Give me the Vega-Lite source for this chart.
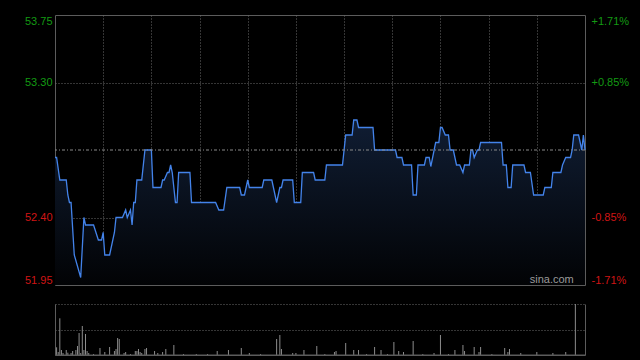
{
  "$schema": "https://vega.github.io/schema/vega-lite/v6.json",
  "background": "#000000",
  "padding": {"left": 0, "top": 14, "right": 0, "bottom": 5},
  "autosize": {"type": "pad"},
  "config": {"view": {"stroke": null}, "font": "Liberation Sans"},
  "spacing": 17,
  "datasets": {
    "price": [
      {"t":0,"p":52.80},{"t":1,"p":52.80},{"t":3,"p":52.65},{"t":7,"p":52.65},{"t":8,"p":52.55},{"t":9,"p":52.50},{"t":10,"p":52.50},{"t":12,"p":52.15},{"t":16,"p":52.00},{"t":18,"p":52.40},{"t":19,"p":52.35},{"t":24,"p":52.35},{"t":27,"p":52.25},{"t":29,"p":52.25},{"t":30,"p":52.30},{"t":31,"p":52.15},{"t":34,"p":52.15},{"t":37,"p":52.30},{"t":38,"p":52.40},{"t":42,"p":52.40},{"t":44,"p":52.45},{"t":45,"p":52.40},{"t":47,"p":52.45},{"t":48,"p":52.35},{"t":49,"p":52.50},{"t":50,"p":52.50},{"t":51,"p":52.65},{"t":54,"p":52.65},{"t":56,"p":52.85},{"t":60,"p":52.85},{"t":61,"p":52.60},{"t":66,"p":52.60},{"t":67,"p":52.65},{"t":68,"p":52.65},{"t":70,"p":52.70},{"t":71,"p":52.70},{"t":72,"p":52.75},{"t":73,"p":52.70},{"t":75,"p":52.50},{"t":76,"p":52.50},{"t":77,"p":52.70},{"t":84,"p":52.70},{"t":85,"p":52.50},{"t":100,"p":52.50},{"t":102,"p":52.45},{"t":105,"p":52.45},{"t":107,"p":52.60},{"t":115,"p":52.60},{"t":116,"p":52.55},{"t":118,"p":52.55},{"t":120,"p":52.65},{"t":121,"p":52.60},{"t":129,"p":52.60},{"t":130,"p":52.65},{"t":135,"p":52.65},{"t":138,"p":52.50},{"t":140,"p":52.60},{"t":141,"p":52.60},{"t":142,"p":52.65},{"t":148,"p":52.65},{"t":149,"p":52.50},{"t":153,"p":52.50},{"t":154,"p":52.70},{"t":161,"p":52.70},{"t":162,"p":52.65},{"t":168,"p":52.65},{"t":169,"p":52.75},{"t":179,"p":52.75},{"t":181,"p":52.95},{"t":185,"p":52.95},{"t":186,"p":53.05},{"t":188,"p":53.05},{"t":189,"p":53.00},{"t":198,"p":53.00},{"t":199,"p":52.85},{"t":212,"p":52.85},{"t":213,"p":52.80},{"t":216,"p":52.80},{"t":217,"p":52.75},{"t":222,"p":52.75},{"t":223,"p":52.55},{"t":225,"p":52.55},{"t":226,"p":52.75},{"t":230,"p":52.75},{"t":231,"p":52.80},{"t":233,"p":52.80},{"t":234,"p":52.74},{"t":237,"p":52.90},{"t":239,"p":52.90},{"t":240,"p":53.00},{"t":241,"p":53.00},{"t":243,"p":52.95},{"t":245,"p":52.95},{"t":246,"p":52.85},{"t":248,"p":52.85},{"t":250,"p":52.75},{"t":252,"p":52.75},{"t":254,"p":52.70},{"t":255,"p":52.75},{"t":258,"p":52.75},{"t":259,"p":52.85},{"t":260,"p":52.85},{"t":261,"p":52.80},{"t":263,"p":52.85},{"t":264,"p":52.85},{"t":265,"p":52.90},{"t":278,"p":52.90},{"t":279,"p":52.75},{"t":281,"p":52.75},{"t":282,"p":52.60},{"t":284,"p":52.60},{"t":285,"p":52.75},{"t":292,"p":52.75},{"t":293,"p":52.70},{"t":296,"p":52.70},{"t":298,"p":52.55},{"t":304,"p":52.55},{"t":305,"p":52.60},{"t":309,"p":52.60},{"t":310,"p":52.70},{"t":315,"p":52.70},{"t":316,"p":52.75},{"t":318,"p":52.80},{"t":321,"p":52.80},{"t":322,"p":52.85},{"t":323,"p":52.95},{"t":326,"p":52.95},{"t":328,"p":52.85},{"t":329,"p":52.95},{"t":330,"p":52.85}
    ],
    "vol": [
      {"t":1,"v":7.7},{"t":2,"v":3},{"t":3,"v":36.7},{"t":4,"v":5},{"t":5,"v":2},{"t":7,"v":5},{"t":8,"v":2.3},{"t":10,"v":2},{"t":11,"v":4},{"t":13,"v":5},{"t":14,"v":9},{"t":15,"v":22},{"t":16,"v":2},{"t":17,"v":29},{"t":18,"v":5},{"t":19,"v":21},{"t":20,"v":4},{"t":21,"v":2},{"t":24,"v":1},{"t":28,"v":7},{"t":31,"v":3},{"t":34,"v":8},{"t":37,"v":4},{"t":38,"v":6},{"t":39,"v":17},{"t":40,"v":16},{"t":43,"v":2},{"t":44,"v":3},{"t":47,"v":1},{"t":50,"v":4},{"t":51,"v":4},{"t":52,"v":6},{"t":53,"v":3},{"t":54,"v":2},{"t":56,"v":6},{"t":57,"v":7},{"t":62,"v":4},{"t":64,"v":2},{"t":67,"v":3},{"t":69,"v":6},{"t":74,"v":10},{"t":80,"v":1},{"t":88,"v":1},{"t":95,"v":1},{"t":101,"v":4},{"t":108,"v":5},{"t":116,"v":7},{"t":121,"v":2},{"t":128,"v":1},{"t":138,"v":16},{"t":140,"v":20},{"t":141,"v":6},{"t":148,"v":2},{"t":150,"v":2},{"t":155,"v":5},{"t":163,"v":9},{"t":168,"v":1},{"t":174,"v":3},{"t":175,"v":4},{"t":181,"v":12},{"t":186,"v":5},{"t":189,"v":5},{"t":194,"v":1},{"t":199,"v":8},{"t":203,"v":5},{"t":207,"v":1},{"t":211,"v":13},{"t":214,"v":4},{"t":217,"v":3},{"t":223,"v":14},{"t":229,"v":1},{"t":236,"v":2},{"t":240,"v":20},{"t":245,"v":1},{"t":249,"v":5},{"t":254,"v":10},{"t":255,"v":4},{"t":261,"v":8},{"t":264,"v":3},{"t":265,"v":8},{"t":272,"v":1},{"t":280,"v":7},{"t":282,"v":3},{"t":283,"v":6},{"t":290,"v":2},{"t":300,"v":3},{"t":310,"v":2},{"t":318,"v":3},{"t":324,"v":51}
    ]
  },
  "vconcat": [
    {
      "width": 530,
      "height": 270,
      "view": {"stroke": "#5c5c5c", "strokeWidth": 1},
      "layer": [
        {
          "data": {"name": "price"},
          "mark": {
            "type": "area",
            "interpolate": "linear",
            "color": {
              "gradient": "linear", "x1": 0, "y1": 0, "x2": 0, "y2": 1,
              "stops": [{"offset": 0, "color": "#101d33"}, {"offset": 1, "color": "#020305"}]
            }
          },
          "encoding": {
            "x": {
              "field": "t", "type": "quantitative",
              "scale": {"domain": [0, 330], "nice": false, "zero": false},
              "axis": {
                "values": [30, 60, 90, 120, 150, 180, 210, 240, 270, 300],
                "grid": true, "gridColor": "#6a6a6a", "gridDash": [1, 2],
                "labels": false, "ticks": false, "domain": false, "title": null,
                "minExtent": 0, "maxExtent": 0
              }
            },
            "y": {
              "field": "p", "type": "quantitative",
              "scale": {"domain": [51.95, 53.75], "nice": false, "zero": false},
              "axis": {
                "values": [51.95, 52.4, 53.3, 53.75],
                "format": ".2f",
                "grid": true, "gridColor": "#6a6a6a", "gridDash": [1, 2],
                "gridOpacity": {"condition": {"test": "datum.value > 52 && datum.value < 53.7", "value": 1}, "value": 0},
                "labelFlush": true,
                "labelColor": {"condition": {"test": "datum.value > 52.85", "value": "#139a13"}, "value": "#d01515"},
                "labelFontSize": 11,
                "labelPadding": 3,
                "ticks": false, "domain": false, "title": null,
                "minExtent": 54, "maxExtent": 54
              }
            },
            "y2": {"datum": 51.95}
          }
        },
        {
          "data": {"name": "price"},
          "mark": {"type": "line", "color": "#4383ea", "strokeWidth": 1.3, "interpolate": "linear"},
          "encoding": {
            "x": {"field": "t", "type": "quantitative"},
            "y": {"field": "p", "type": "quantitative", "scale": {"domain": [51.95, 53.75], "nice": false, "zero": false}, "axis": null}
          }
        },
        {
          "data": {"values": [{"prevClose": 52.85}]},
          "mark": {"type": "rule", "color": "#8a8a8a", "strokeDash": [3, 2, 1, 2], "strokeWidth": 1},
          "encoding": {
            "y": {
              "field": "prevClose", "type": "quantitative",
              "scale": {"domain": [51.95, 53.75], "nice": false, "zero": false},
              "axis": {
                "orient": "right",
                "values": [51.95, 52.4, 53.3, 53.75],
                "labelExpr": "datum.value > 53.5 ? '+1.71%' : datum.value > 53 ? '+0.85%' : datum.value > 52 ? '-0.85%' : '-1.71%'",
                "labelFlush": true,
                "labelColor": {"condition": {"test": "datum.value > 52.85", "value": "#139a13"}, "value": "#d01515"},
                "labelFontSize": 11,
                "labelPadding": 6,
                "grid": false, "ticks": false, "domain": false, "title": null,
                "minExtent": 56, "maxExtent": 56
              }
            }
          }
        },
        {
          "data": {"values": [{"label": "sina.com", "t": 323, "p": 51.95}]},
          "mark": {"type": "text", "align": "right", "baseline": "alphabetic", "dy": -2, "color": "#9a9a9a", "fontSize": 11},
          "encoding": {
            "text": {"field": "label"},
            "x": {"field": "t", "type": "quantitative"},
            "y": {"field": "p", "type": "quantitative", "scale": {"domain": [51.95, 53.75], "nice": false, "zero": false}, "axis": null}
          }
        }
      ],
      "resolve": {"axis": {"y": "independent"}}
    },
    {
      "width": 530,
      "height": 51,
      "layer": [
        {
          "data": {"name": "vol"},
          "mark": {"type": "rule", "color": "#8c8c8c", "strokeWidth": 1},
          "encoding": {
            "x": {
              "field": "t", "type": "quantitative",
              "scale": {"domain": [0, 330], "nice": false, "zero": false},
              "axis": {"grid": false, "labels": false, "ticks": false, "domain": true, "domainColor": "#5c5c5c", "title": null, "minExtent": 0, "maxExtent": 0}
            },
            "y": {
              "field": "v", "type": "quantitative",
              "scale": {"domain": [0, 51], "nice": false},
              "axis": {
                "values": [25.5, 51],
                "grid": true, "gridColor": "#6a6a6a", "gridDash": [1, 2],
                "labels": false, "ticks": false, "domain": true, "domainColor": "#5c5c5c", "title": null,
                "minExtent": 54, "maxExtent": 54
              }
            },
            "y2": {"datum": 0}
          }
        },
        {
          "data": {"values": [{"base": 0}]},
          "mark": {"type": "rule", "color": "#5c5c5c", "strokeWidth": 1},
          "encoding": {
            "y": {
              "field": "base", "type": "quantitative",
              "scale": {"domain": [0, 51], "nice": false},
              "axis": {"orient": "right", "labels": false, "ticks": false, "grid": false, "domain": true, "domainColor": "#5c5c5c", "title": null, "minExtent": 56, "maxExtent": 56}
            }
          }
        }
      ],
      "resolve": {"axis": {"y": "independent"}}
    }
  ]
}
